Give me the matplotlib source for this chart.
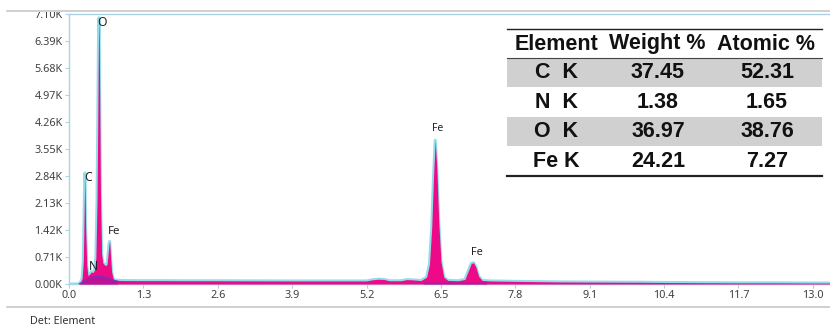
import matplotlib
matplotlib.use("Agg")
import matplotlib.pyplot as plt
from matplotlib.patches import Rectangle
from matplotlib.lines import Line2D
from matplotlib.ticker import FuncFormatter

# EDS spectrum, counts vs energy (keV)
energy_kev = [0.00, 0.16, 0.20, 0.23, 0.25, 0.265, 0.277, 0.29, 0.31, 0.33,
              0.36, 0.39, 0.42, 0.45, 0.47, 0.49, 0.505, 0.515, 0.525, 0.535,
              0.55, 0.57, 0.59, 0.61, 0.64, 0.665, 0.685, 0.70, 0.71, 0.725,
              0.745, 0.77, 0.80, 0.85, 0.95, 1.2, 1.6, 2.0, 2.6, 3.2,
              3.9, 4.6, 5.2, 5.3, 5.4, 5.5, 5.6, 5.8, 5.9, 6.0,
              6.15, 6.25, 6.30, 6.34, 6.37, 6.40, 6.43, 6.46, 6.50, 6.55,
              6.62, 6.80, 6.92, 6.98, 7.03, 7.07, 7.11, 7.16, 7.22, 7.35,
              7.8, 8.5, 9.1, 10.0, 10.4, 11.0, 11.7, 12.4, 13.0, 13.3]
counts = [0, 0, 40, 150, 600, 1900, 2920, 1500, 500, 220,
          260, 320, 300, 380, 700, 2200, 4600, 6400, 7000, 5200,
          2400, 800, 560, 520, 480, 520, 820, 1060, 1120, 760,
          320, 150, 105, 95, 90, 88, 88, 85, 85, 82,
          80, 80, 80, 110, 125, 120, 85, 85, 115, 110,
          90, 180, 520, 1500, 2800, 3780, 3000, 1700, 600, 180,
          95, 85, 120, 350, 540, 560, 450, 200, 95, 80,
          70, 55, 50, 45, 40, 35, 30, 30, 25, 25]

# fitted background: low-energy hump and the stretch under the Fe K lines
bg_energy = [0.18, 0.25, 0.32, 0.40, 0.48, 0.55, 0.62, 0.70, 0.78, 0.85]
bg_counts = [0, 60, 120, 170, 200, 200, 185, 150, 90, 70]
bg_fe_energy = [6.2, 6.6, 6.9, 7.3]
bg_fe_counts = [55, 52, 50, 48]

# peak labels: (text, energy, counts, size)
peak_names = ["O", "C", "Fe", "N", "Fe", "Fe"]
peak_x = [0.58, 0.34, 0.79, 0.42, 6.45, 7.13]
peak_y = [6880, 2790, 1370, 450, 4100, 820]
peak_size = [8.8, 8.8, 8.3, 8.8, 7.5, 7.8]

# quantification table
table_header = ["Element", "Weight %", "Atomic %"]
table_elements = ["C  K", "N  K", "O  K", "Fe K"]
weight_pct = [37.45, 1.38, 36.97, 24.21]
atomic_pct = [52.31, 1.65, 38.76, 7.27]

ytick_vals = [i * 710 for i in range(11)]
xtick_vals = [round(i * 1.3, 1) for i in range(11)]

MAGENTA = "#EE0A86"
CYAN = "#92DDEC"
PURPLE = "#7B2FB8"
FRAME = "#A9D3E6"

W, H = 830, 327
fig = plt.figure(figsize=(W / 100, H / 100), dpi=100)
fig.patch.set_facecolor("white")
plt.rcParams["font.family"] = ["Noto Sans", "DejaVu Sans"]


def fx(px):
    return px / W


def fy(py):
    return 1 - py / H


ax = fig.add_axes([fx(69), fy(284), 1 - fx(69), fy(14) - fy(284)])
ax.plot(energy_kev, counts, color=CYAN, lw=2.2, zorder=2, solid_joinstyle="round")
ax.fill_between(energy_kev, counts, 0, color=MAGENTA, lw=0, zorder=3)
ax.fill_between(bg_energy, bg_counts, 0, color="#B0159C", lw=0, alpha=0.8, zorder=4)
ax.plot(bg_energy, bg_counts, color=PURPLE, lw=1.0, zorder=5)
ax.fill_between(bg_fe_energy, bg_fe_counts, 0, color="#9A1FA8", lw=0, alpha=0.8, zorder=4)

for name, x, y, s in zip(peak_names, peak_x, peak_y, peak_size):
    ax.text(x, y, name, ha="center", va="center", fontsize=s,
            color="#222222", fontweight="semibold", zorder=6)

ax.set_xlim(0, 13.3)
ax.set_ylim(0, 7100)
ax.set_xticks(xtick_vals)
ax.set_xticklabels([f"{v:.1f}" for v in xtick_vals])
ax.set_yticks(ytick_vals)
ax.yaxis.set_major_formatter(FuncFormatter(lambda v, p: f"{v / 1000:.2f}K"))
for side in ["top", "left", "bottom"]:
    ax.spines[side].set_color(FRAME)
    ax.spines[side].set_linewidth(1.0)
ax.spines["right"].set_visible(False)
ax.tick_params(axis="both", colors=FRAME, labelcolor="#404040",
               labelsize=7.8, length=3, width=0.8, pad=1.5)

# horizontal rules and footer
fig.add_artist(Rectangle((0, fy(12)), 1, 1 - fy(12), transform=fig.transFigure,
                         facecolor="white", edgecolor="none", zorder=20))
fig.add_artist(Line2D([fx(7), 1], [fy(11), fy(11)], color="#C8C8C8", lw=1.2, zorder=21))
fig.add_artist(Line2D([fx(7), 1], [fy(307), fy(307)], color="#C8C8C8", lw=1.2))
fig.text(fx(30), fy(321), "Det: Element", fontsize=7.8, color="#333333", va="center")

# quantification table
tx0, tx1 = fx(507), fx(822)
col_x = [fx(556), fx(658), fx(767)]
row_top = [58, 88, 117, 147]
row_h = 29
tfont = dict(family=["Liberation Sans", "DejaVu Sans"], fontweight="bold",
             fontsize=15.5, color="#111111", ha="center", va="center")
for i, rt in enumerate(row_top):
    if i % 2 == 0:
        fig.add_artist(Rectangle((tx0, fy(rt + row_h)), tx1 - tx0, fy(rt) - fy(rt + row_h),
                                 transform=fig.transFigure, facecolor="#D0D0D0",
                                 edgecolor="none", zorder=8))
    cy = fy(rt + row_h / 2)
    fig.text(col_x[0], cy, table_elements[i], zorder=9, **tfont)
    fig.text(col_x[1], cy, f"{weight_pct[i]:.2f}", zorder=9, **tfont)
    fig.text(col_x[2], cy, f"{atomic_pct[i]:.2f}", zorder=9, **tfont)
for hx, htxt in zip([fx(557), fx(657), fx(766)], table_header):
    fig.text(hx, fy(44), htxt, zorder=9, **tfont)
fig.add_artist(Line2D([tx0, tx1], [fy(29), fy(29)], color="#222222", lw=1.0, zorder=9))
fig.add_artist(Line2D([tx0, tx1], [fy(58), fy(58)], color="#444444", lw=0.8, zorder=9))
fig.add_artist(Line2D([tx0, tx1], [fy(176), fy(176)], color="#222222", lw=1.6, zorder=9))

fig.savefig("out.png", dpi=100, facecolor="white")
